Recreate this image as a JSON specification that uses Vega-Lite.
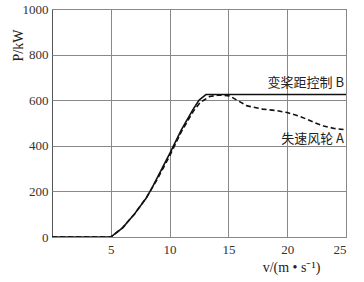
{
  "$schema": "https://vega.github.io/schema/vega-lite/v6.json",
  "width": 294,
  "height": 228,
  "autosize": {"type": "none"},
  "padding": {"left": 52, "top": 9, "right": 18, "bottom": 45},
  "background": "white",
  "config": {
    "view": {"stroke": "#555", "strokeWidth": 1},
    "axis": {
      "labelFont": "Liberation Serif",
      "labelFontSize": 13,
      "labelColor": "#333",
      "titleFont": "Liberation Serif",
      "titleFontSize": 14,
      "titleFontWeight": "normal",
      "titleColor": "#222",
      "gridColor": "#888",
      "gridOpacity": 1,
      "gridWidth": 1,
      "ticks": false,
      "domain": false
    }
  },
  "datasets": {
    "curves": [
      {"v": 0, "p": 0, "s": "B"},
      {"v": 5, "p": 0, "s": "B"},
      {"v": 6, "p": 40, "s": "B"},
      {"v": 7, "p": 100, "s": "B"},
      {"v": 8, "p": 170, "s": "B"},
      {"v": 8.5, "p": 215, "s": "B"},
      {"v": 9, "p": 265, "s": "B"},
      {"v": 10, "p": 365, "s": "B"},
      {"v": 11, "p": 470, "s": "B"},
      {"v": 12, "p": 560, "s": "B"},
      {"v": 12.5, "p": 600, "s": "B"},
      {"v": 13.1, "p": 625, "s": "B"},
      {"v": 25, "p": 625, "s": "B"},
      {"v": 0, "p": 0, "s": "A"},
      {"v": 5, "p": 0, "s": "A"},
      {"v": 6, "p": 40, "s": "A"},
      {"v": 7, "p": 100, "s": "A"},
      {"v": 8, "p": 170, "s": "A"},
      {"v": 9, "p": 258, "s": "A"},
      {"v": 10, "p": 355, "s": "A"},
      {"v": 11, "p": 462, "s": "A"},
      {"v": 12, "p": 550, "s": "A"},
      {"v": 12.6, "p": 590, "s": "A"},
      {"v": 13.4, "p": 616, "s": "A"},
      {"v": 14.2, "p": 623, "s": "A"},
      {"v": 15.1, "p": 619, "s": "A"},
      {"v": 15.8, "p": 598, "s": "A"},
      {"v": 16.6, "p": 575, "s": "A"},
      {"v": 17.9, "p": 561, "s": "A"},
      {"v": 19.0, "p": 555, "s": "A"},
      {"v": 20.0, "p": 546, "s": "A"},
      {"v": 21.0, "p": 530, "s": "A"},
      {"v": 21.7, "p": 516, "s": "A"},
      {"v": 22.4, "p": 500, "s": "A"},
      {"v": 23.1, "p": 487, "s": "A"},
      {"v": 24.0, "p": 476, "s": "A"},
      {"v": 25, "p": 470, "s": "A"}
    ],
    "labels": [
      {"v": 25, "p": 640, "t": "变桨距控制 B", "b": "top"},
      {"v": 25, "p": 430, "t": "失速风轮 A", "b": "mid"}
    ]
  },
  "layer": [
    {
      "data": {"name": "curves"},
      "mark": {"type": "line", "color": "#111", "strokeWidth": 1.6, "clip": true},
      "encoding": {
        "x": {
          "field": "v", "type": "quantitative",
          "scale": {"domain": [0, 25], "nice": false},
          "axis": {
            "values": [5, 10, 15, 20, 25],
            "labelPadding": 6,
            "grid": true,
            "title": "v/(m • s⁻¹)",
            "titleX": 239,
            "titleY": 30,
            "titleBaseline": "middle",
            "titleAnchor": null,
            "titleAlign": "center"
          }
        },
        "y": {
          "field": "p", "type": "quantitative",
          "scale": {"domain": [0, 1000], "nice": false},
          "axis": {
            "values": [0, 200, 400, 600, 800, 1000],
            "format": "d",
            "labelPadding": 4,
            "grid": true,
            "title": "P/kW",
            "titleX": -34,
            "titleY": 36,
            "titleAnchor": null,
            "titleAlign": "center",
            "titleBaseline": "middle",
            "titleAngle": -90
          }
        },
        "detail": {"field": "s"},
        "strokeDash": {
          "field": "s", "type": "nominal",
          "scale": {"domain": ["A", "B"], "range": [[5, 3], [1, 0]]},
          "legend": null
        }
      }
    },
    {
      "data": {"name": "labels"},
      "transform": [{"filter": "datum.b == 'top'"}],
      "mark": {"type": "text", "align": "right", "baseline": "bottom", "dx": -2, "dy": -1, "font": "Noto Sans CJK SC", "fontSize": 13, "color": "#222"},
      "encoding": {
        "x": {"field": "v", "type": "quantitative"},
        "y": {"field": "p", "type": "quantitative"},
        "text": {"field": "t"}
      }
    },
    {
      "data": {"name": "labels"},
      "transform": [{"filter": "datum.b == 'mid'"}],
      "mark": {"type": "text", "align": "right", "baseline": "middle", "dx": -2, "font": "Noto Sans CJK SC", "fontSize": 13, "color": "#222"},
      "encoding": {
        "x": {"field": "v", "type": "quantitative"},
        "y": {"field": "p", "type": "quantitative"},
        "text": {"field": "t"}
      }
    }
  ]
}
